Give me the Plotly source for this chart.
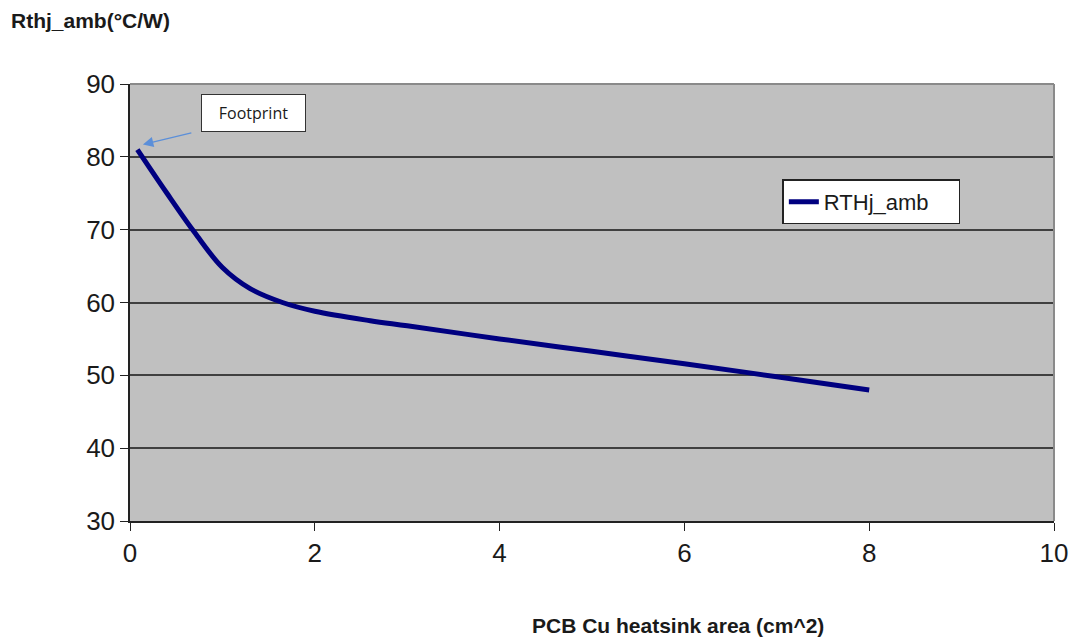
import plotly.graph_objects as go

area_cm2 = [0.08, 0.4, 0.7, 1.0, 1.3, 1.65, 2.0, 2.6, 3.0, 4.0, 5.0, 6.0, 7.0, 8.0]
rthj_amb = [81.0, 75.0, 69.6, 64.8, 61.9, 60.0, 58.8, 57.5, 56.8, 55.0, 53.3, 51.6, 49.8, 48.0]
x_ticks = [0, 2, 4, 6, 8, 10]
y_ticks = [30, 40, 50, 60, 70, 80, 90]
series_name = "RTHj_amb"

fig = go.Figure()
fig.add_trace(go.Scatter(
    x=area_cm2, y=rthj_amb, mode="lines", name=series_name + "\u00a0\u00a0\u00a0\u00a0",
    line=dict(color="#000080", width=5, shape="spline", smoothing=1.0),
))

fig.update_layout(
    width=1080, height=641,
    margin=dict(l=130, r=23, t=84, b=120),
    paper_bgcolor="white", plot_bgcolor="#c0c0c0",
    font=dict(family="Liberation Sans, Arial, sans-serif", color="#1a1a1a"),
    showlegend=True,
    legend=dict(x=0.706, y=0.73, xanchor="left", yanchor="middle",
                bgcolor="white", bordercolor="#222222", borderwidth=1.5,
                font=dict(size=22, color="#1a1a1a")),
    xaxis=dict(range=[0, 10], tickvals=x_ticks, showgrid=False, zeroline=False,
               showline=True, linecolor="#222222", linewidth=1.5, mirror=False,
               ticks="outside", ticklen=8, tickcolor="#222222",
               tickfont=dict(size=26, color="#1a1a1a")),
    yaxis=dict(range=[30, 90], tickvals=y_ticks, showgrid=True, gridcolor="#404040",
               gridwidth=1.5, zeroline=False,
               showline=True, linecolor="#222222", linewidth=1.5,
               ticks="outside", ticklen=8, tickcolor="#222222",
               tickfont=dict(size=26, color="#1a1a1a")),
)

# plot border (top/right gray)
fig.add_shape(type="line", xref="paper", yref="paper", x0=0, x1=1, y0=1, y1=1,
              line=dict(color="#8a8a8a", width=2))
fig.add_shape(type="line", xref="paper", yref="paper", x0=1, x1=1, y0=0, y1=1,
              line=dict(color="#8a8a8a", width=2))

fig.add_annotation(xref="paper", yref="paper", x=-0.131, y=1.0, yshift=64,
                   xanchor="left", yanchor="middle", showarrow=False,
                   text="<b>Rthj_amb(°C/W)</b>", font=dict(size=21, color="#1a1a1a"))
fig.add_annotation(xref="paper", yref="paper", x=0.593, y=0, yshift=-104,
                   xanchor="center", yanchor="middle", showarrow=False,
                   text="<b>PCB Cu heatsink area (cm^2)</b>", font=dict(size=21, color="#1a1a1a"))

# Footprint callout
fig.add_annotation(x=0.14, y=81.7, ax=0.68, ay=83.35,
                   axref="x", ayref="y", xref="x", yref="y",
                   showarrow=True, arrowhead=2, arrowsize=1.6, arrowwidth=1.3,
                   arrowcolor="#5b8fd9", text="")
fig.add_annotation(x=1.34, y=86.0, xref="x", yref="y", showarrow=False,
                   text="Footprint", bgcolor="white", bordercolor="#333333",
                   borderwidth=1, borderpad=8, width=87, height=20,
                   font=dict(family="Open Sans, sans-serif", size=16, color="#1a1a1a"))

fig.write_html("out.html", config={"displayModeBar": False},
               post_script="document.body.style.margin='0';")
